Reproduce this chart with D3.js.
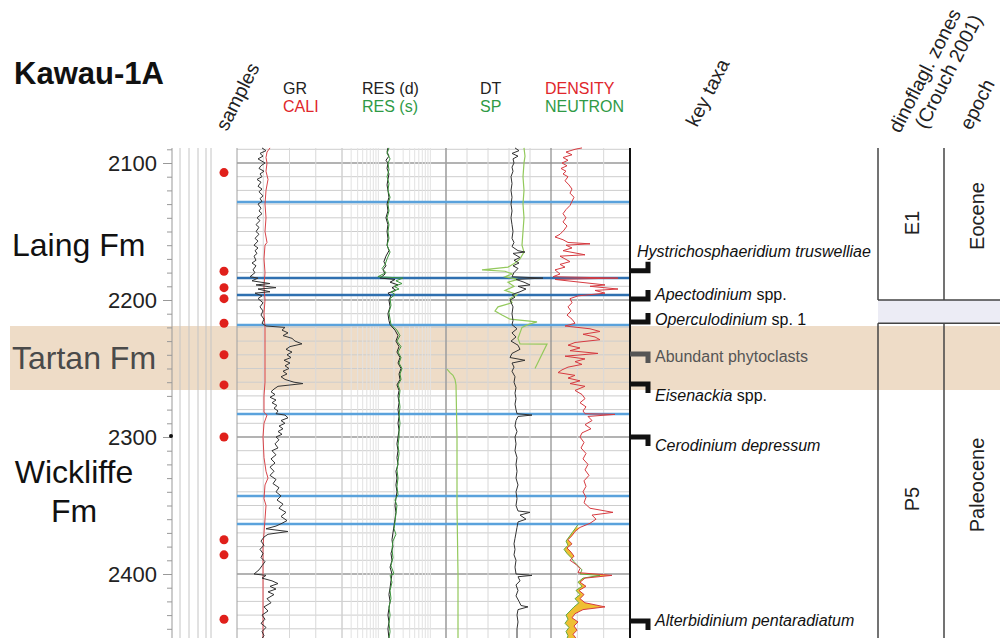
<!DOCTYPE html>
<html>
<head>
<meta charset="utf-8">
<script src="https://cdn.jsdelivr.net/npm/d3@7"></script>
<style>
body { margin: 0; background: #fff; }
svg { display: block; font-family: "Liberation Sans", Arial, sans-serif; }
</style>
</head>
<body>
<div id="chart"></div>
<script>
// ---- data (depth in m, log value) ----
var grData = [[2089,50],[2091,58],[2093,46],[2095,52],[2097,42],[2100,56],[2102,48],[2104,44],[2106,54],[2108,46],[2110,50],[2112,40],[2114,48],[2117,42],[2119,50],[2121,44],[2124,52],[2126,46],[2128,50],[2130,42],[2133,48],[2135,44],[2137,50],[2140,40],[2142,46],[2145,38],[2147,44],[2150,38],[2152,44],[2155,36],[2157,42],[2160,34],[2162,42],[2164,36],[2166,40],[2168,34],[2171,38],[2173,30],[2175,38],[2178,32],[2180,36],[2183,26],[2184,42],[2186,30],[2188,66],[2189,38],[2191,78],[2192,42],[2194,66],[2195,36],[2197,50],[2199,42],[2202,52],[2205,46],[2208,52],[2211,48],[2214,54],[2217,50],[2219,58],[2220,96],[2222,90],[2224,102],[2226,92],[2228,110],[2230,116],[2232,130],[2234,106],[2236,98],[2238,110],[2240,100],[2242,108],[2244,94],[2246,106],[2248,96],[2250,104],[2252,92],[2254,100],[2256,88],[2258,96],[2260,114],[2261,132],[2263,82],[2265,74],[2267,68],[2269,76],[2271,66],[2273,78],[2275,70],[2277,80],[2279,74],[2281,82],[2283,78],[2284,96],[2286,102],[2288,88],[2290,96],[2292,84],[2294,92],[2296,82],[2298,90],[2300,78],[2302,84],[2305,76],[2308,82],[2310,70],[2313,78],[2316,68],[2319,76],[2322,66],[2325,74],[2328,66],[2331,78],[2334,72],[2337,84],[2340,78],[2343,88],[2346,80],[2349,92],[2352,84],[2355,98],[2358,88],[2361,100],[2363,90],[2365,78],[2367,58],[2369,102],[2371,62],[2373,54],[2376,48],[2379,54],[2382,46],[2385,52],[2388,48],[2391,56],[2394,50],[2397,44],[2400,34],[2401,58],[2403,50],[2405,70],[2407,82],[2409,66],[2411,78],[2413,62],[2415,74],[2418,60],[2421,68],[2424,54],[2427,62],[2430,50],[2433,56],[2436,48],[2439,58],[2442,50],[2445,54],[2447,50]];

var caliData = [[2089,10.6],[2092,10.0],[2096,9.8],[2100,10.0],[2106,9.8],[2112,10.2],[2120,9.8],[2130,9.6],[2140,9.8],[2150,9.6],[2158,10.0],[2160,9.6],[2170,9.4],[2180,9.6],[2190,9.4],[2200,9.6],[2210,9.4],[2220,9.6],[2240,9.6],[2260,9.6],[2270,9.4],[2282,9.4],[2284,10.0],[2290,9.4],[2300,9.2],[2315,9.4],[2325,9.8],[2330,10.2],[2335,9.6],[2345,9.4],[2350,9.8],[2360,9.6],[2370,9.4],[2380,9.2],[2400,9.2],[2420,9.2],[2447,9.2]];

var resDeep = [[2089,1.53],[2092,1.47],[2095,1.60],[2098,1.40],[2100,1.53],[2104,1.47],[2108,1.60],[2112,1.53],[2116,1.47],[2120,1.53],[2125,1.60],[2130,1.47],[2135,1.53],[2140,1.40],[2145,1.53],[2150,1.47],[2155,1.53],[2160,1.47],[2164,1.60],[2168,1.40],[2172,1.28],[2175,1.40],[2178,1.23],[2181,1.35],[2184,1.08],[2185,2.09],[2187,1.68],[2189,2.39],[2191,1.83],[2193,2.18],[2195,1.53],[2197,1.75],[2200,1.60],[2205,1.68],[2210,1.53],[2215,1.60],[2218,1.68],[2222,2.09],[2226,2.39],[2230,2.18],[2234,2.50],[2238,2.28],[2242,2.61],[2246,2.39],[2250,2.73],[2254,2.50],[2258,2.61],[2262,2.28],[2266,2.50],[2270,2.39],[2275,2.50],[2280,2.39],[2285,2.50],[2290,2.39],[2295,2.50],[2300,2.39],[2305,2.28],[2310,2.39],[2315,2.28],[2320,2.39],[2325,2.18],[2330,2.28],[2335,2.18],[2340,2.28],[2345,2.18],[2350,2.09],[2355,2.18],[2360,2.09],[2365,2.00],[2370,1.91],[2375,1.83],[2380,1.91],[2385,1.75],[2390,1.83],[2395,1.68],[2400,1.83],[2405,1.75],[2410,1.68],[2415,1.60],[2420,1.68],[2425,1.60],[2430,1.53],[2435,1.60],[2440,1.53],[2447,1.60]];

var resShallow = [[2089,1.60],[2093,1.47],[2097,1.68],[2100,1.53],[2105,1.60],[2110,1.47],[2115,1.60],[2120,1.53],[2125,1.68],[2130,1.53],[2135,1.60],[2140,1.47],[2145,1.60],[2150,1.53],[2155,1.60],[2160,1.47],[2165,1.68],[2170,1.47],[2174,1.35],[2177,1.18],[2180,1.40],[2183,0.98],[2184,2.98],[2186,2.18],[2188,2.85],[2190,2.00],[2192,2.50],[2194,1.75],[2196,2.09],[2199,1.68],[2204,1.75],[2209,1.60],[2214,1.68],[2218,1.75],[2222,2.28],[2226,2.61],[2230,2.28],[2234,2.73],[2238,2.39],[2242,2.73],[2246,2.50],[2250,2.85],[2254,2.61],[2258,2.73],[2262,2.39],[2266,2.61],[2272,2.50],[2278,2.61],[2284,2.50],[2290,2.61],[2296,2.50],[2300,2.50],[2306,2.39],[2312,2.50],[2318,2.39],[2324,2.28],[2330,2.39],[2336,2.28],[2342,2.39],[2346,2.09],[2350,2.28],[2356,2.18],[2362,2.09],[2367,2.00],[2371,2.18],[2376,1.91],[2382,1.83],[2388,1.91],[2394,1.75],[2400,2.00],[2401,1.68],[2406,1.83],[2412,1.68],[2418,1.75],[2424,1.60],[2430,1.68],[2436,1.60],[2442,1.68],[2447,1.60]];

var dtData = [[2089,71],[2091,67],[2093,74],[2095,68],[2097,73],[2100,72],[2103,74],[2106,73],[2110,75],[2115,74],[2120,75],[2125,74],[2130,75],[2135,74],[2140,75],[2145,74],[2150,73],[2155,74],[2158,72],[2161,74],[2164,68],[2165,61],[2166,73],[2169,66],[2171,72],[2173,67],[2175,73],[2177,68],[2180,72],[2183,74],[2184,43],[2185,70],[2187,62],[2189,56],[2190,68],[2192,60],[2194,66],[2196,74],[2198,71],[2200,76],[2205,73],[2210,74],[2215,73],[2218,74],[2221,69],[2224,74],[2227,70],[2230,75],[2233,68],[2236,66],[2239,74],[2242,76],[2244,61],[2246,74],[2249,72],[2252,74],[2256,71],[2260,72],[2264,70],[2268,71],[2272,70],[2276,71],[2280,70],[2283,69],[2284,54],[2285,68],[2288,70],[2292,71],[2296,69],[2300,71],[2305,70],[2310,71],[2315,69],[2320,70],[2325,69],[2330,70],[2335,68],[2340,70],[2345,69],[2350,70],[2354,68],[2355,56],[2357,66],[2360,60],[2362,68],[2366,69],[2370,70],[2374,71],[2378,72],[2382,71],[2386,72],[2390,70],[2395,71],[2400,70],[2401,54],[2402,68],[2405,66],[2408,70],[2412,68],[2416,70],[2420,67],[2423,65],[2424,58],[2426,68],[2430,69],[2435,68],[2440,69],[2447,69]];

var spData = [[2089,-12],[2095,-11],[2100,-12],[2110,-13],[2120,-12],[2130,-13],[2140,-12],[2150,-13],[2160,-14],[2165,-12],[2170,-16],[2173,-21],[2176,-28],[2178,-54],[2179,-31],[2181,-24],[2183,-31],[2185,-18],[2187,-28],[2190,-22],[2193,-31],[2196,-19],[2199,-26],[2202,-24],[2205,-38],[2208,-41],[2211,-34],[2214,-26],[2216,1],[2218,-8],[2220,-14],[2224,-16],[2228,-18],[2232,-16],[2232.2,11],[2250,-1],[2250.3,null],[2250.5,-89],[2253,-86],[2255,-83],[2258,-81],[2262,-80],[2300,-79],[2350,-79],[2400,-78],[2447,-78]];

var denData = [[2089,2.26],[2090,2.19],[2092,2.10],[2094,2.16],[2096,2.07],[2098,2.12],[2100,2.06],[2102,2.11],[2104,2.05],[2106,2.10],[2108,2.07],[2110,2.12],[2113,2.09],[2116,2.13],[2119,2.16],[2122,2.14],[2125,2.18],[2128,2.16],[2131,2.14],[2134,2.10],[2137,2.07],[2140,2.10],[2143,2.07],[2146,2.11],[2149,2.08],[2152,2.04],[2154,1.99],[2156,2.07],[2158,2.12],[2159,2.34],[2160,2.10],[2162,2.16],[2164,2.07],[2167,2.29],[2168,2.04],[2170,2.09],[2172,2.14],[2174,2.04],[2176,2.09],[2178,1.99],[2181,2.04],[2183,1.97],[2184,2.62],[2185,1.99],[2187,2.24],[2189,2.49],[2190,2.34],[2192,2.62],[2193,2.39],[2195,2.49],[2197,2.22],[2199,2.14],[2202,2.16],[2205,2.12],[2208,2.15],[2211,2.11],[2214,2.16],[2217,2.19],[2219,2.09],[2221,2.34],[2223,2.44],[2225,2.27],[2227,2.39],[2229,2.44],[2231,2.19],[2233,2.12],[2235,2.24],[2237,2.14],[2239,2.42],[2241,2.09],[2243,2.29],[2245,2.19],[2247,2.26],[2249,2.12],[2251,2.06],[2253,2.02],[2255,2.19],[2257,2.12],[2259,2.24],[2261,2.14],[2263,2.29],[2266,2.19],[2269,2.26],[2272,2.29],[2275,2.24],[2278,2.30],[2281,2.27],[2283,2.29],[2283.5,2.59],[2285,2.32],[2288,2.36],[2291,2.29],[2294,2.35],[2297,2.26],[2300,2.24],[2304,2.28],[2308,2.25],[2312,2.30],[2316,2.27],[2320,2.32],[2324,2.29],[2328,2.33],[2332,2.28],[2336,2.30],[2340,2.27],[2344,2.30],[2348,2.28],[2352,2.34],[2355,2.57],[2357,2.36],[2360,2.40],[2363,2.34],[2366,2.24],[2369,2.19],[2372,2.16],[2375,2.12],[2378,2.16],[2381,2.11],[2384,2.15],[2387,2.18],[2390,2.14],[2393,2.20],[2396,2.24],[2399,2.22],[2401,2.56],[2403,2.29],[2406,2.24],[2409,2.30],[2412,2.23],[2415,2.28],[2418,2.24],[2421,2.29],[2424,2.49],[2426,2.27],[2429,2.19],[2432,2.16],[2435,2.22],[2438,2.18],[2441,2.21],[2444,2.17],[2447,2.20]];

var neuData = [[2364,0.18],[2367,0.21],[2370,0.24],[2373,0.27],[2376,0.30],[2379,0.28],[2382,0.32],[2385,0.29],[2388,0.25],[2391,0.22],[2394,0.18],[2397,0.14],[2400,0.16],[2401,-0.04],[2403,0.13],[2406,0.18],[2409,0.14],[2412,0.20],[2415,0.16],[2418,0.21],[2421,0.17],[2424,0.22],[2427,0.26],[2430,0.30],[2433,0.28],[2436,0.31],[2439,0.27],[2442,0.30],[2445,0.28],[2447,0.29]];

var sampleDepths = [2107, 2179, 2191, 2199, 2217, 2240, 2262, 2300, 2375, 2386, 2433];
var boundaryDepths = [2128.5, 2184, 2196.4, 2218.2, 2283.2, 2343, 2363.5];
var strongBoundaries = [2184, 2196.4];
var depthMajor = [2100, 2200, 2300, 2400];
var tartanBand = [2219, 2265.7];

var taxaNames = ["Hystrichosphaeridium truswelliae", "Apectodinium", "Operculodinium", "", "Eisenackia", "Cerodinium depressum", "Alterbidinium pentaradiatum"];
var taxaSuffix = ["", " spp.", " sp. 1", "Abundant phytoclasts", " spp.", "", ""];
var taxaDepths = [2178.6, 2199.3, 2216, 2239.4, 2261.3, 2300, 2434.3];
var taxaKind = ["base", "base", "base", "top", "top", "top", "top"];

var zoneNames = ["E1", "P5"];
var zoneTops = [2089, 2217];
var zoneBases = [2200, 2447];
var epochNames = ["Eocene", "Paleocene"];

var formations = [["Laing Fm"], ["Tartan Fm"], ["Wickliffe", "Fm"]];
var headerTop = ["GR", "RES (d)", "DT", "DENSITY"];
var headerBottom = ["CALI", "RES (s)", "SP", "NEUTRON"];

// ---- layout ----
var W = 1000, H = 638, yTop = 148, yBot = 638;
var red = "#e0262b", green = "#2f9a46";
var svg = d3.select("#chart").append("svg").attr("width", W).attr("height", H);

var y = d3.scaleLinear().domain([2100, 2400]).range([163, 574]);
var xGR = d3.scaleLinear().domain([0, 210]).range([237, 342]);
var xCALI = d3.scaleLinear().domain([4, 25]).range([237, 342]);
var xRES = d3.scaleLog().domain([0.2, 20]).range([342, 446]);
var xDT = d3.scaleLinear().domain([140, 35]).range([446, 551]);
var xSP = d3.scaleLinear().domain([-90, 15]).range([446, 551]);
var xDEN = d3.scaleLinear().domain([1.95, 2.74]).range([551, 630]);
var xNEU = d3.scaleLinear().domain([0.45, -0.34]).range([551, 630]);

// background bands
svg.append("rect").attr("x", 10).attr("width", 990)
  .attr("y", y(tartanBand[0])).attr("height", y(tartanBand[1]) - y(tartanBand[0]))
  .attr("fill", "#eedcc7");
svg.append("rect").attr("x", 878).attr("width", 122)
  .attr("y", y(zoneBases[0])).attr("height", y(zoneTops[1]) - y(zoneBases[0]))
  .attr("fill", "#ececf5");

// grid
var grid = svg.append("g");
d3.range(2090, 2450, 10).forEach(function(d) {
  grid.append("line").attr("x1", 237).attr("x2", 630).attr("y1", y(d)).attr("y2", y(d))
    .attr("stroke", d % 100 === 0 ? "#9a9a9a" : "#cdcdcd").attr("stroke-width", d % 100 === 0 ? 1.5 : 1);
});
xRES.ticks().forEach(function(v) {
  grid.append("line").attr("x1", xRES(v)).attr("x2", xRES(v)).attr("y1", yTop).attr("y2", yBot)
    .attr("stroke", "#e2e2e2");
});
[52.5, 105, 157.5].forEach(function(v) {
  grid.append("line").attr("x1", xGR(v)).attr("x2", xGR(v)).attr("y1", yTop).attr("y2", yBot).attr("stroke", "#d8d8d8");
});
[119, 98, 77, 56].forEach(function(v) {
  grid.append("line").attr("x1", xDT(v)).attr("x2", xDT(v)).attr("y1", yTop).attr("y2", yBot).attr("stroke", "#d8d8d8");
});
[2.2133, 2.4767].forEach(function(v) {
  grid.append("line").attr("x1", xDEN(v)).attr("x2", xDEN(v)).attr("y1", yTop).attr("y2", yBot).attr("stroke", "#d8d8d8");
});
[[237, "#a0a0a0", 1], [342, "#c8c8c8", 1], [446, "#8a8a8a", 1.2], [551, "#8a8a8a", 1.2]].forEach(function(s) {
  grid.append("line").attr("x1", s[0]).attr("x2", s[0]).attr("y1", yTop).attr("y2", yBot)
    .attr("stroke", s[1]).attr("stroke-width", s[2]);
});
[180, 189, 198, 206, 211].forEach(function(x) {
  grid.append("line").attr("x1", x).attr("x2", x).attr("y1", yTop).attr("y2", yBot).attr("stroke", "#c4c4c4");
});

// boundary lines
boundaryDepths.forEach(function(d) {
  var strong = strongBoundaries.indexOf(d) >= 0;
  svg.append("line").attr("x1", 237).attr("x2", 630).attr("y1", y(d)).attr("y2", y(d))
    .attr("stroke", strong ? "#2f70b0" : "#5aa2dc").attr("stroke-width", 2.5);
});

// density-neutron crossover fill
var defs = svg.append("defs");
var denLow = denData.filter(function(d) { return d[0] >= neuData[0][0]; });
defs.append("clipPath").attr("id", "denClip").append("path")
  .attr("d", d3.area().y(function(d) { return y(d[0]); }).x0(551).x1(function(d) { return xDEN(d[1]); })(denLow));
svg.append("path")
  .attr("d", d3.area().y(function(d) { return y(d[0]); }).x0(function(d) { return xNEU(d[1]); }).x1(630)(neuData))
  .attr("clip-path", "url(#denClip)").attr("fill", "#efbf33");

// curves
function curve(data, xs, color, w) {
  svg.append("path").datum(data)
    .attr("d", d3.line().defined(function(d) { return d[1] != null; })
      .x(function(d) { return xs(d[1]); }).y(function(d) { return y(d[0]); }))
    .attr("fill", "none").attr("stroke", color).attr("stroke-width", w);
}
curve(caliData, xCALI, "#d8454a", 1);
curve(grData, xGR, "#333", 1);
curve(resDeep, xRES, "#222", 1);
curve(resShallow, xRES, "#3d963d", 1);
curve(spData, xSP, "#93c95c", 1.2);
curve(dtData, xDT, "#333", 1);
curve(neuData, xNEU, "#62aa3e", 1);
curve(denData, xDEN, "#d63a40", 1);

// right border of log panel
svg.append("line").attr("x1", 630).attr("x2", 630).attr("y1", yTop).attr("y2", yBot)
  .attr("stroke", "#111").attr("stroke-width", 2);

// depth axis
var axisG = svg.append("g").attr("transform", "translate(172,0)");
axisG.append("line").attr("y1", yTop).attr("y2", yBot).attr("stroke", "#999");
axisG.append("g").call(d3.axisLeft(y).tickValues(d3.range(2090, 2450, 10)).tickSize(5).tickFormat(""));
var majorAxis = axisG.append("g").call(d3.axisLeft(y).tickValues(depthMajor).tickSize(9).tickPadding(6).tickFormat(d3.format("d")));
axisG.selectAll(".domain").remove();
axisG.selectAll(".tick line").attr("stroke", "#999");
majorAxis.selectAll("text").attr("font-size", 22).attr("fill", "#222").attr("font-family", "Liberation Sans, Arial, sans-serif");
svg.append("circle").attr("cx", 171).attr("cy", y(2300) - 1).attr("r", 2).attr("fill", "#111");

// samples
svg.selectAll("circle.sample").data(sampleDepths).enter().append("circle")
  .attr("class", "sample").attr("cx", 224).attr("cy", function(d) { return y(d); })
  .attr("r", 4.5).attr("fill", "#e0201b");

// key taxa
var labelShift = [-14, 1, 3, 8, 17, 14, 5];
taxaDepths.forEach(function(d, i) {
  var yy = y(d);
  var col = taxaNames[i] === "" ? "#555" : "#111";
  svg.append("path")
    .attr("d", "M630," + yy + "H648V" + (taxaKind[i] === "base" ? yy - 9 : yy + 9))
    .attr("fill", "none").attr("stroke", col).attr("stroke-width", 5);
  var t = svg.append("text").attr("x", i === 0 ? 637 : 655).attr("y", yy + labelShift[i])
    .attr("font-size", 16).attr("fill", col);
  if (taxaNames[i]) t.append("tspan").attr("font-style", "italic").text(taxaNames[i]);
  if (taxaSuffix[i]) t.append("tspan").text(taxaSuffix[i]);
});

// zone and epoch columns
var zg = svg.append("g").attr("stroke", "#444").attr("stroke-width", 1.5);
zoneTops.forEach(function(t, i) {
  var y0 = Math.max(y(t), yTop), y1 = Math.min(y(zoneBases[i]), yBot);
  [878, 944].forEach(function(x) {
    zg.append("line").attr("x1", x).attr("x2", x).attr("y1", y0).attr("y2", y1);
  });
  if (i > 0) zg.append("line").attr("x1", 878).attr("x2", 1000).attr("y1", y0).attr("y2", y0);
  if (zoneBases[i] < 2440) zg.append("line").attr("x1", 878).attr("x2", 1000).attr("y1", y1).attr("y2", y1);
});
var zoneLabelY = [223, 499], epochLabelY = [216, 485];
zoneNames.forEach(function(n, i) {
  svg.append("text").attr("transform", "translate(912," + zoneLabelY[i] + ") rotate(-90)")
    .attr("text-anchor", "middle").attr("dominant-baseline", "central").attr("font-size", 20).attr("fill", "#222").text(n);
  svg.append("text").attr("transform", "translate(977," + epochLabelY[i] + ") rotate(-90)")
    .attr("text-anchor", "middle").attr("dominant-baseline", "central").attr("font-size", 20).attr("fill", "#222").text(epochNames[i]);
});

// titles and headers
svg.append("text").attr("x", 14).attr("y", 84).attr("font-size", 31).attr("font-weight", "bold")
  .attr("fill", "#111").text("Kawau-1A");
var hx = [283, 362, 480, 545];
var topCol = ["#222", "#222", "#222", red];
headerTop.forEach(function(h, i) {
  svg.append("text").attr("x", hx[i]).attr("y", 94).attr("font-size", 16).attr("fill", topCol[i]).text(h);
  svg.append("text").attr("x", hx[i]).attr("y", 112).attr("font-size", 16).attr("fill", i === 0 ? red : green).text(headerBottom[i]);
});
[["samples", 227, 132], ["key taxa", 697, 128], ["dinoflagl. zones", 900, 134], ["(Crouch 2001)", 926, 130], ["epoch", 971, 131]]
  .forEach(function(r) {
    svg.append("text").attr("transform", "translate(" + r[1] + "," + r[2] + ") rotate(-63)")
      .attr("font-size", 19.5).attr("fill", "#222").text(r[0]);
  });

// formation names
var fmPos = [[12, 256, "start"], [12, 369, "start"], [74, 483, "middle"]];
formations.forEach(function(lines, i) {
  lines.forEach(function(s, j) {
    svg.append("text").attr("x", fmPos[i][0]).attr("y", fmPos[i][1] + j * 39)
      .attr("text-anchor", fmPos[i][2]).attr("font-size", 32)
      .attr("fill", i === 1 ? "#4a4a4a" : "#111").text(s);
  });
});
</script>
</body>
</html>
